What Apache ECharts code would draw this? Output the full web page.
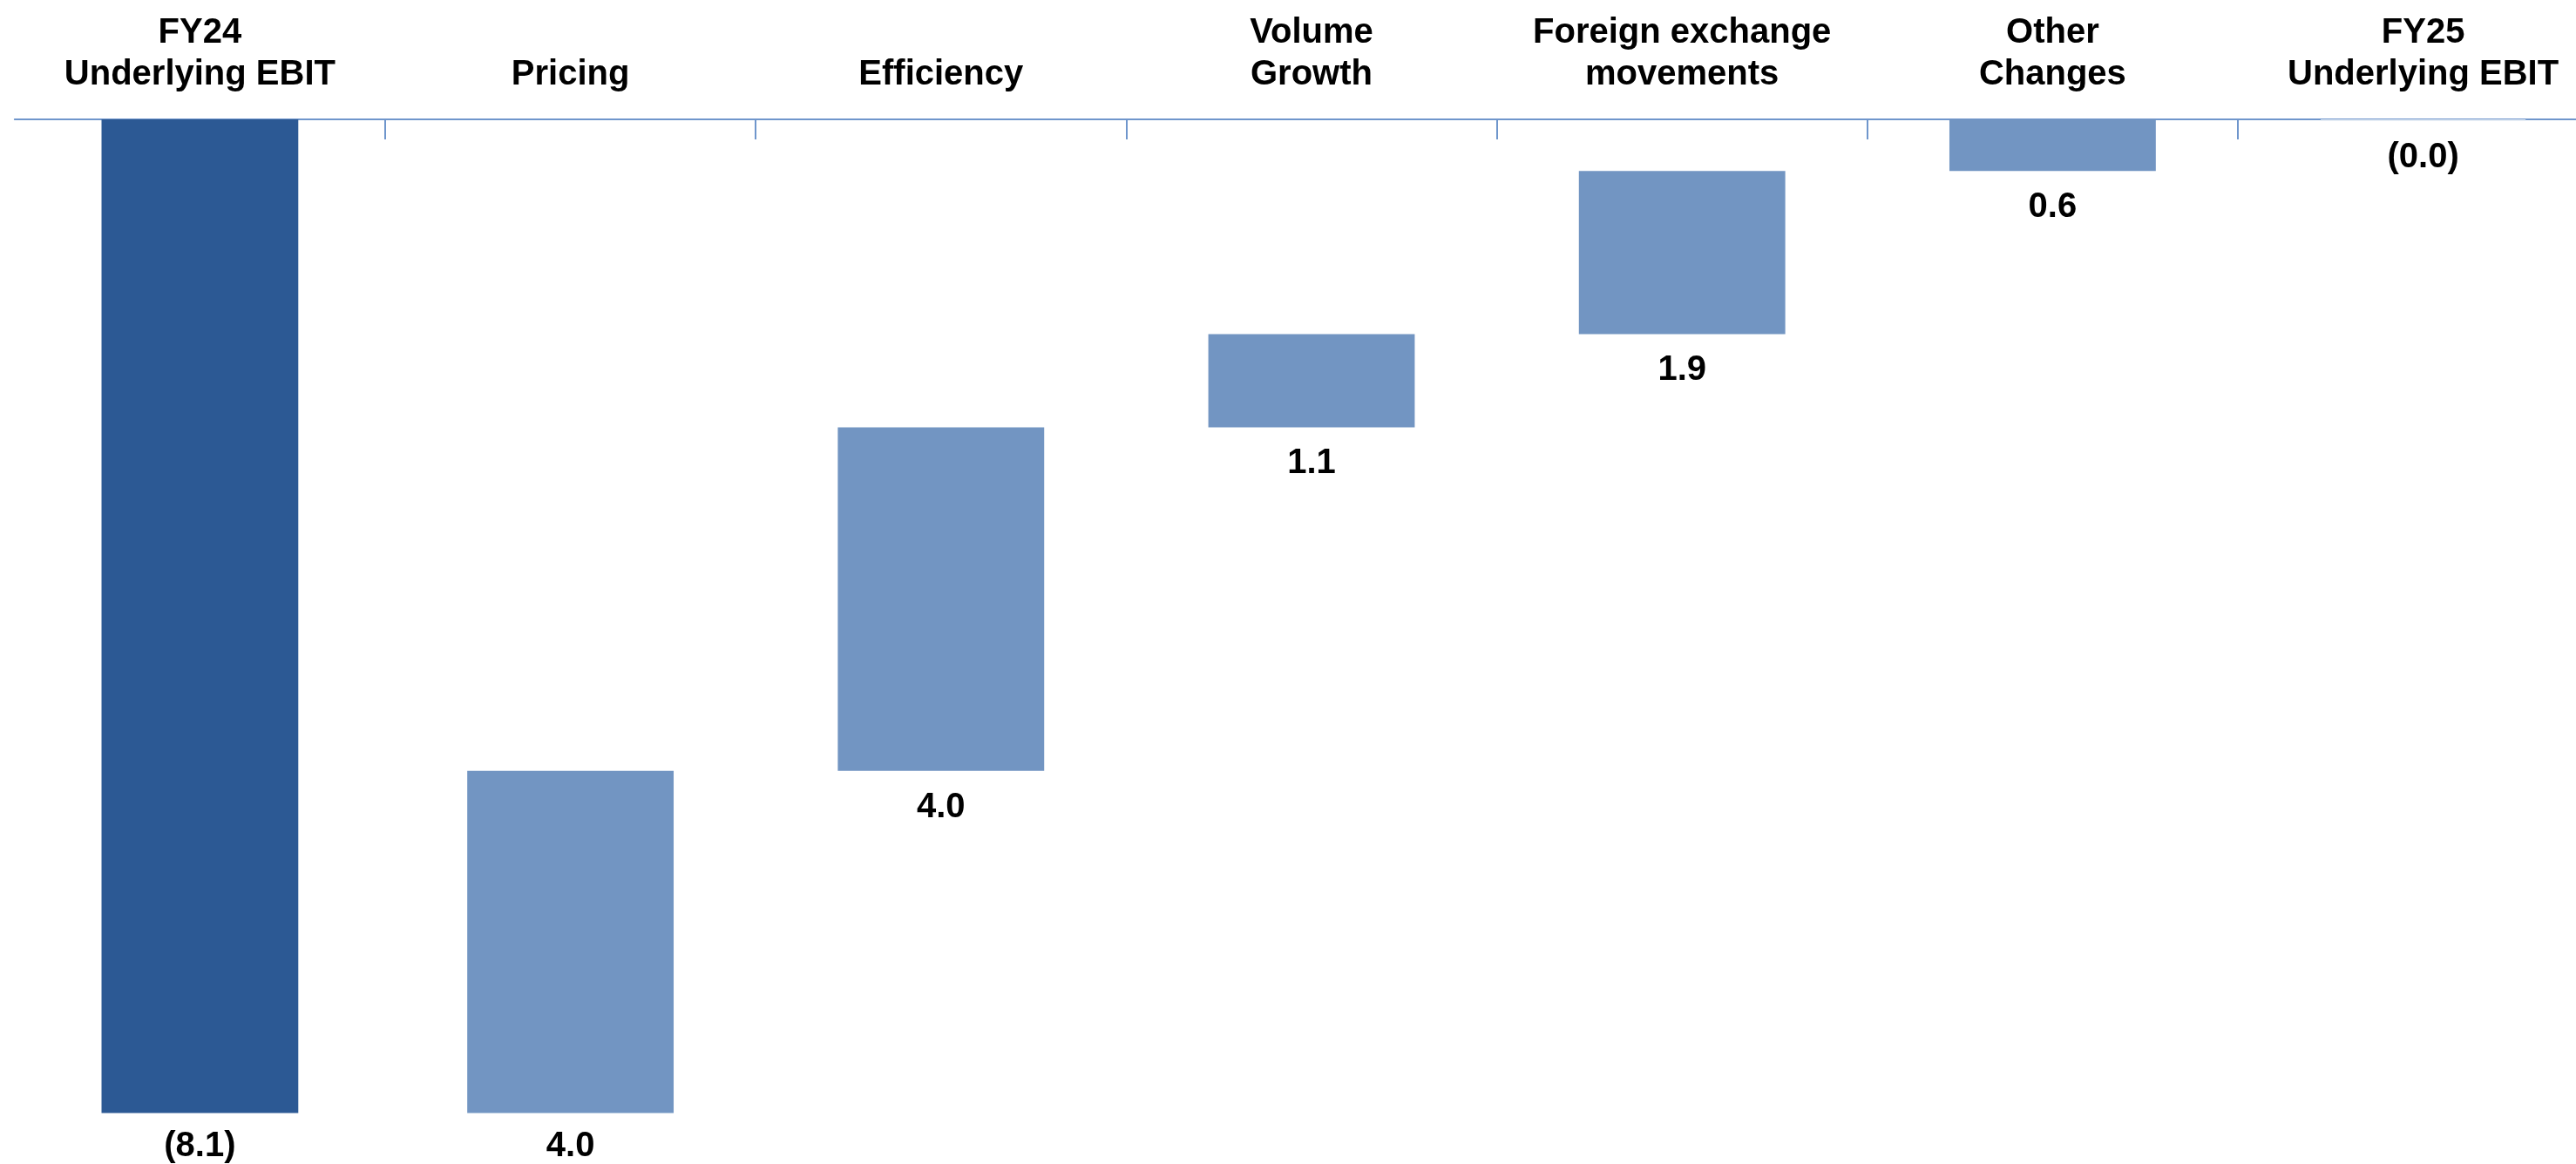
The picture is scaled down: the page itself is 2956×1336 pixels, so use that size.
<!DOCTYPE html>
<html>
<head>
<meta charset="utf-8">
<script src="https://cdn.jsdelivr.net/npm/echarts@6/dist/echarts.min.js"></script>
<style>
  html, body { margin: 0; padding: 0; background: #ffffff; }
  #chart { width: 2956px; height: 1336px; }
</style>
</head>
<body>
<div id="chart"></div>
<script>
// ---- data ----
const categories = [
  'FY24\nUnderlying EBIT',
  'Pricing',
  'Efficiency',
  'Volume\nGrowth',
  'Foreign exchange\nmovements',
  'Other\nChanges',
  'FY25\nUnderlying EBIT'
];
// printed value labels
const valueLabels = ['(8.1)', '4.0', '4.0', '1.1', '1.9', '0.6', '(0.0)'];
// drawn extent of each bar on the (hidden) value axis: upper end and lower end
const barUpper = [0, -5.31, -2.51, -1.75, -0.42, 0, 0];
const barLower = [-8.1, -8.1, -5.31, -2.51, -1.75, -0.42, -0.012];
// which bars are totals
const totalIdx = [0, 6];

// ---- styling ----
const FONT = '"Liberation Sans", Arial, Helvetica, sans-serif';
const colorTotalStart = '#2C5994';
const colorTotalEnd = '#DCE6F2';
const colorStep = '#7295C2';
const axisColor = '#6F96CC';

function makeItems(idxs) {
  return idxs.map(i => [i, barUpper[i], barLower[i]]);
}
const stepIdx = categories.map((c, i) => i).filter(i => totalIdx.indexOf(i) < 0);

function renderer(widthRatioFn, colorFn) {
  return function (params, api) {
    const i = api.value(0);
    const hi = api.value(1);
    const lo = api.value(2);
    const p1 = api.coord([i, hi]);
    const p2 = api.coord([i, lo]);
    const bw = api.size([1, 0])[0] * widthRatioFn(i);
    const labelGap = (lo <= -8.1) ? 18 : 22;
    return {
      type: 'group',
      children: [
        {
          type: 'rect',
          shape: { x: p1[0] - bw / 2, y: p1[1], width: bw, height: Math.max(p2[1] - p1[1], 1.5) },
          style: { fill: colorFn(i) }
        },
        {
          type: 'text',
          x: p1[0],
          y: p2[1] + labelGap,
          style: {
            text: valueLabels[i],
            fill: '#000000',
            fontSize: 40,
            fontWeight: 'bold',
            fontFamily: FONT,
            align: 'center',
            verticalAlign: 'top'
          }
        }
      ]
    };
  };
}

const chart = echarts.init(document.getElementById('chart'), null, { renderer: 'canvas' });
chart.setOption({
  animation: false,
  backgroundColor: '#ffffff',
  grid: {
    left: 16.8, width: 2976.4, top: 137, height: 1140.5,
    containLabel: false, outerBoundsMode: 'none'
  },
  xAxis: {
    type: 'category',
    position: 'top',
    offset: 3,
    data: categories,
    boundaryGap: true,
    axisLine: { show: true, lineStyle: { color: axisColor, width: 2 } },
    axisTick: {
      show: true, inside: true, length: 23,
      interval: function (i) { return i > 0; },
      lineStyle: { color: axisColor, width: 2 }
    },
    axisLabel: {
      interval: 0,
      margin: 24,
      color: '#000000',
      fontSize: 40,
      fontWeight: 'bold',
      fontFamily: FONT,
      lineHeight: 48,
      align: 'center',
      hideOverlap: false
    },
    splitLine: { show: false }
  },
  yAxis: {
    type: 'value',
    min: -8.1,
    max: 0,
    show: false,
    splitLine: { show: false }
  },
  series: [
    {
      type: 'custom',
      name: 'totals',
      clip: false,
      renderItem: renderer(
        i => (i === 0 ? 0.531 : 0.553),
        i => (i === 0 ? colorTotalStart : colorTotalEnd)
      ),
      encode: { x: 0, y: [1, 2] },
      data: makeItems(totalIdx)
    },
    {
      type: 'custom',
      name: 'steps',
      clip: false,
      renderItem: renderer(() => 0.557, () => colorStep),
      encode: { x: 0, y: [1, 2] },
      data: makeItems(stepIdx)
    }
  ]
});
</script>
</body>
</html>
